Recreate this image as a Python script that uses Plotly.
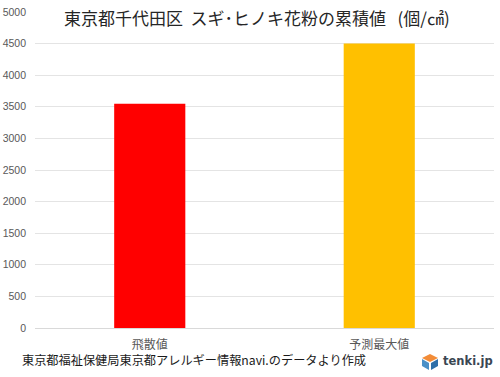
import plotly.graph_objects as go

categories = ["飛散値", "予測最大値"]
values = [3550, 4500]
colors = ["#FF0000", "#FFC000"]
tick_values = [0, 500, 1000, 1500, 2000, 2500, 3000, 3500, 4000, 4500, 5000]

W, H = 500, 377
L, R, T, B = 35, 494, 12, 328
FONT = "Noto Sans CJK JP"


def px(x):
    return (x - L) / (R - L)


def py(y):
    return (B - y) / (B - T)


def path(points):
    return "M " + " L ".join(f"{px(x):.4f} {py(y):.4f}" for x, y in points) + " Z"


fig = go.Figure(go.Bar(x=categories, y=values, marker=dict(color=colors, line_width=0), width=0.31))

# tenki.jp cube logo
logo = [
    ([(422, 358), (430, 354), (438, 358), (430, 362)], "#F28C38"),
    ([(422, 359), (429, 363), (429, 370), (422, 366)], "#4A90C8"),
    ([(431, 363), (438, 359), (438, 366), (431, 370)], "#2F6FA8"),
]
shapes = [
    dict(type="path", xref="paper", yref="paper", path=path(p), fillcolor=c, line_width=0)
    for p, c in logo
]

fig.update_layout(
    width=W,
    height=H,
    margin=dict(l=L, r=W - R, t=T, b=H - B, autoexpand=False),
    paper_bgcolor="white",
    plot_bgcolor="white",
    font=dict(family=FONT, color="#595959", size=10),
    showlegend=False,
    bargap=0.69,
    shapes=shapes,
    xaxis=dict(
        showgrid=False,
        showline=True,
        linecolor="#D9D9D9",
        linewidth=1,
        ticks="",
        tickfont=dict(size=12, color="#595959", family=FONT),
        ticklabelstandoff=6,
    ),
    yaxis=dict(
        range=[0, 5000],
        tickvals=tick_values,
        showgrid=True,
        gridcolor="#E4E4E4",
        gridwidth=1,
        showline=False,
        zeroline=False,
        ticks="",
        tickfont=dict(size=10.5, color="#595959", family="Liberation Sans"),
        ticklabelstandoff=8,
    ),
    annotations=[
        dict(
            text="東京都千代田区  スギ･ヒノキ花粉の累積値   (個/㎠)",
            xref="paper", yref="paper", x=px(257), y=py(18), xanchor="center", yanchor="middle",
            showarrow=False, bgcolor="white", borderpad=3,
            font=dict(size=17, color="#262626", family=FONT),
        ),
        dict(
            text="東京都福祉保健局東京都アレルギー情報navi.のデータより作成",
            xref="paper", yref="paper", x=px(20), y=py(360), xanchor="left", yanchor="middle",
            showarrow=False,
            font=dict(size=12.2, color="#1a1a1a", family=FONT),
        ),
        dict(
            text="<b>tenki.jp</b>",
            xref="paper", yref="paper", x=px(441), y=py(361), xanchor="left", yanchor="middle",
            showarrow=False,
            font=dict(size=11.5, color="#3a4652", family="DejaVu Sans"),
        ),
    ],
)

fig.write_html(
    "out.html",
    config={"displayModeBar": False},
    post_script="document.body.style.margin='0';",
)
